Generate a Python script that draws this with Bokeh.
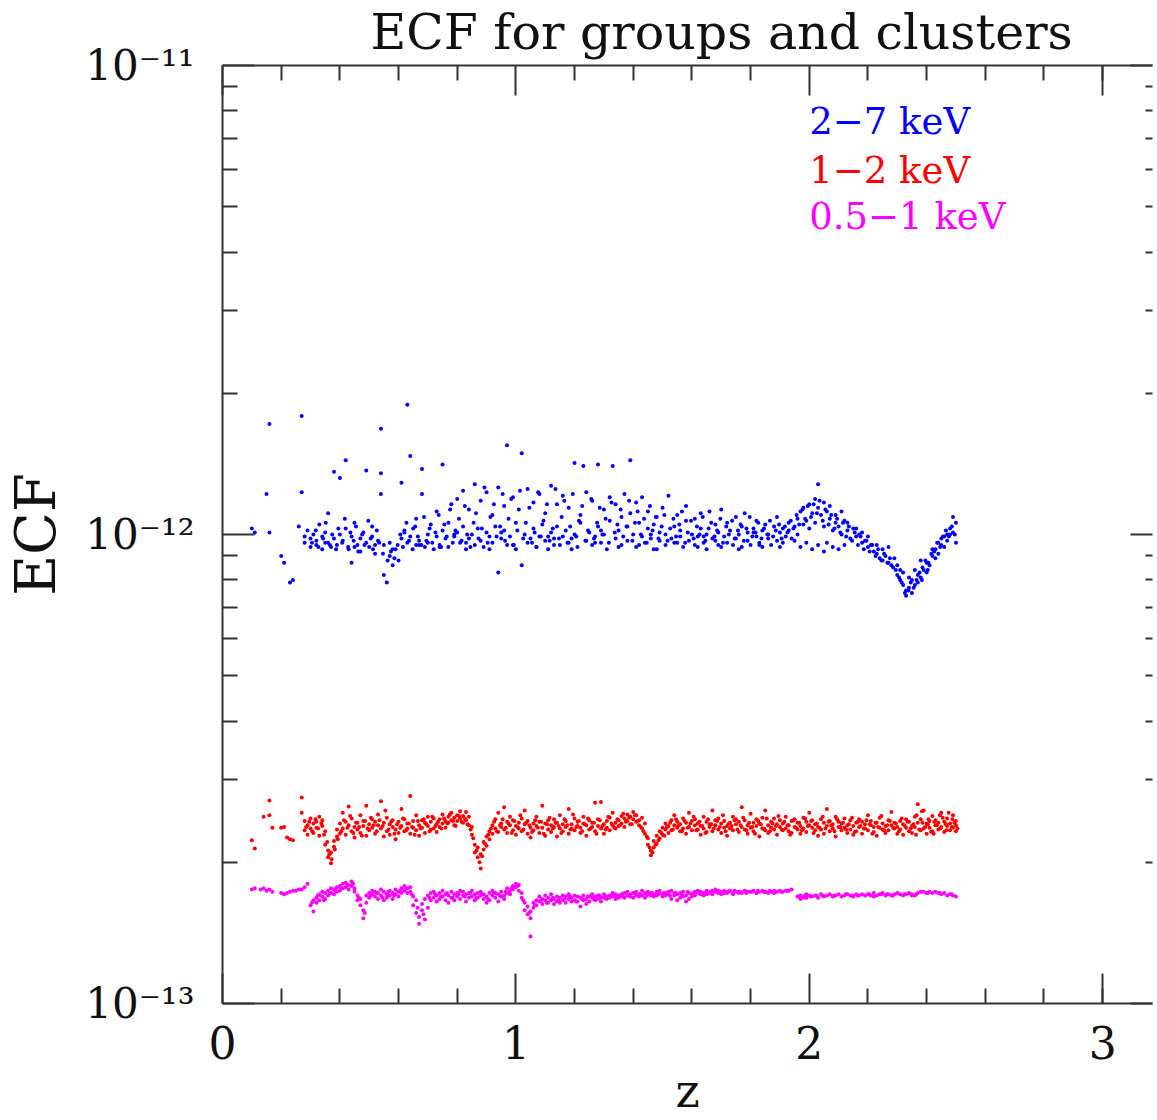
from bokeh.plotting import figure
from bokeh.models import (LogAxis, LinearAxis, FixedTicker, Label, Range1d,
                          ColumnDataSource, CustomLabelingPolicy)
from bokeh.embed import file_html
from bokeh.resources import INLINE

# ---------------- data (ECF values in units of 1e-13) ----------------
blue_z = [
    0.10, 0.11, 0.15, 0.16, 0.16, 0.20, 0.21, 0.23, 0.24, 0.27,
    0.27, 0.26, 0.28, 0.28, 0.29, 0.30, 0.30, 0.31, 0.32, 0.32,
    0.33, 0.34, 0.34, 0.35, 0.36, 0.36, 0.37, 0.38, 0.38, 0.39,
    0.40, 0.40, 0.41, 0.42, 0.42, 0.43, 0.44, 0.44, 0.45, 0.46,
    0.47, 0.47, 0.48, 0.49, 0.49, 0.50, 0.51, 0.51, 0.52, 0.53,
    0.54, 0.54, 0.54, 0.55, 0.55, 0.56, 0.57, 0.57, 0.58, 0.59,
    0.60, 0.61, 0.61, 0.62, 0.63, 0.63, 0.64, 0.64, 0.65, 0.66,
    0.66, 0.67, 0.68, 0.68, 0.69, 0.70, 0.70, 0.71, 0.72, 0.73,
    0.73, 0.74, 0.75, 0.75, 0.76, 0.77, 0.77, 0.78, 0.79, 0.80,
    0.80, 0.81, 0.82, 0.82, 0.83, 0.84, 0.84, 0.85, 0.86, 0.86,
    0.87, 0.88, 0.88, 0.89, 0.90, 0.90, 0.91, 0.92, 0.92, 0.93,
    0.94, 0.94, 0.95, 0.96, 0.96, 0.97, 0.97, 0.98, 0.99, 1.00,
    1.00, 1.01, 1.02, 1.02, 1.03, 1.04, 1.04, 1.05, 1.06, 1.06,
    1.07, 1.08, 1.08, 1.09, 1.10, 1.10, 1.11, 1.12, 1.12, 1.13,
    1.14, 1.14, 1.15, 1.16, 1.16, 1.17, 1.18, 1.18, 1.19, 1.20,
    1.20, 1.21, 1.22, 1.22, 1.23, 1.24, 1.24, 1.25, 1.26, 1.26,
    1.27, 1.28, 1.28, 1.29, 1.30, 1.30, 1.31, 1.32, 1.32, 1.33,
    1.34, 1.34, 1.35, 1.36, 1.36, 1.37, 1.38, 1.38, 1.39, 1.39,
    1.40, 1.41, 1.41, 1.42, 1.43, 1.43, 1.44, 1.45, 1.45, 1.46,
    1.47, 1.47, 1.48, 1.49, 1.49, 1.50, 1.51, 1.51, 1.52, 1.53,
    1.54, 1.54, 1.55, 1.56, 1.56, 1.57, 1.58, 1.58, 1.59, 1.60,
    1.61, 1.61, 1.62, 1.63, 1.63, 1.64, 1.65, 1.65, 1.66, 1.67,
    1.68, 1.68, 1.69, 1.70, 1.70, 1.71, 1.72, 1.72, 1.73, 1.74,
    1.75, 1.75, 1.76, 1.77, 1.77, 1.78, 1.79, 1.79, 1.80, 1.81,
    1.82, 1.82, 1.83, 1.84, 1.84, 1.85, 1.86, 1.86, 1.87, 1.88,
    1.89, 1.89, 1.90, 1.91, 1.91, 1.92, 1.93, 1.93, 1.94, 1.95,
    1.96, 1.96, 1.97, 1.98, 1.98, 1.99, 2.00, 2.00, 2.01, 2.02,
    2.02, 2.03, 2.03, 2.04, 2.05, 2.05, 2.06, 2.07, 2.07, 2.08,
    2.09, 2.09, 2.10, 2.11, 2.11, 2.12, 2.13, 2.13, 2.14, 2.15,
    2.16, 2.16, 2.17, 2.18, 2.18, 2.19, 2.20, 2.20, 2.21, 2.22,
    2.23, 2.23, 2.24, 2.25, 2.25, 2.26, 2.27, 2.27, 2.28, 2.29,
    2.30, 2.30, 2.31, 2.32, 2.32, 2.33, 2.33, 2.34, 2.35, 2.35,
    2.36, 2.37, 2.37, 2.38, 2.39, 2.40, 2.40, 2.41, 2.42, 2.43,
    2.43, 2.44, 2.45, 2.45, 2.46, 2.47, 2.47, 2.48, 2.49, 2.50,
    2.50, 2.49, 2.48, 2.46, 2.44, 2.42, 2.38, 2.36, 2.34, 2.31,
    1.97, 1.99, 2.01, 2.03, 2.05, 2.06, 2.08, 1.95, 2.10, 2.12,
    0.35, 0.45, 0.52, 0.58, 0.67, 0.74, 0.83, 0.91, 0.99, 1.07,
    1.13, 1.19, 1.27, 1.35, 1.42, 1.48, 1.55, 1.62, 1.69, 1.76,
    1.83, 1.90, 0.62, 0.79, 0.95, 1.11, 1.29, 1.46, 1.64, 1.81,
    0.305, 0.318, 0.327, 0.343, 0.352, 0.366, 0.374, 0.387, 0.395, 0.408,
    0.417, 0.428, 0.436, 0.447, 0.455, 0.463, 0.476, 0.484, 0.497, 0.505,
    0.513, 0.526, 0.534, 0.547, 0.563, 0.574, 0.586, 0.597, 0.606, 0.615,
    0.627, 0.636, 0.648, 0.657, 0.666, 0.678, 0.687, 0.695, 0.706, 0.715,
    0.726, 0.737, 0.745, 0.756, 0.764, 0.776, 0.785, 0.794, 0.806, 0.815,
    0.826, 0.834, 0.845, 0.856, 0.864, 0.873, 0.884, 0.893, 0.904, 0.913,
    0.925, 0.934, 0.946, 0.955, 0.963, 0.975, 0.984, 0.993, 1.005, 1.014,
    1.025, 1.034, 1.046, 1.055, 1.064, 1.076, 1.085, 1.094, 1.106, 1.115,
    1.126, 1.135, 1.147, 1.156, 1.165, 1.176, 1.185, 1.194, 1.206, 1.215,
    1.226, 1.237, 1.246, 1.257, 1.266, 1.277, 1.286, 1.295, 1.306, 1.317,
    1.326, 1.337, 1.346, 1.357, 1.366, 1.377, 1.386, 1.397, 1.406, 1.415,
    1.426, 1.437, 1.446, 1.457, 1.466, 1.477, 1.486, 1.497, 1.506, 1.517,
    1.526, 1.537, 1.546, 1.557, 1.566, 1.577, 1.586, 1.597, 1.606, 1.617,
    1.626, 1.637, 1.646, 1.657, 1.666, 1.677, 1.686, 1.697, 1.706, 1.717,
    1.726, 1.737, 1.746, 1.757, 1.766, 1.777, 1.786, 1.797, 1.806, 1.817,
    1.826, 1.837, 1.846, 1.857, 1.866, 1.877, 1.886, 1.897, 1.906, 1.917,
    1.926, 1.937, 1.946, 1.957, 1.966, 1.977, 1.986, 1.995, 2.006, 2.015,
    2.026, 2.035, 2.046, 2.055, 2.066, 2.075, 2.086, 2.095, 2.106, 2.115,
    2.126, 2.135, 2.146, 2.155, 2.166, 2.175, 2.186, 2.195, 2.206, 2.215,
    2.226, 2.235, 2.246, 2.255, 2.266, 2.275, 2.286, 2.295, 2.306, 2.315,
    2.326, 2.338, 2.346, 2.356, 2.366, 2.376, 2.386, 2.396, 2.406, 2.416,
    2.426, 2.436, 2.446, 2.456, 2.466, 2.476, 2.486, 2.496, 2.404, 2.384,
]
blue_ecf = [
    10.3, 10.1, 12.2, 17.2, 10.1, 9.0, 8.7, 7.9, 8.0, 17.9,
    12.3, 10.4, 9.6, 9.9, 10.2, 9.4, 9.8, 10.0, 9.5, 9.7,
    10.5, 9.3, 9.9, 10.1, 9.6, 11.1, 9.4, 13.6, 9.8, 9.5,
    10.0, 13.2, 9.7, 14.4, 10.3, 9.3, 8.7, 9.9, 10.6, 9.5,
    9.8, 9.2, 10.1, 13.7, 9.6, 9.4, 9.9, 10.4, 9.1, 9.7,
    16.8, 13.5, 12.2, 8.2, 9.5, 7.9, 9.0, 9.6, 8.6, 9.3,
    8.8, 12.9, 9.8, 10.1, 9.6, 18.9, 14.7, 9.9, 10.3, 9.5,
    10.8, 9.7, 13.8, 12.2, 9.4, 10.0, 9.6, 10.5, 9.3, 9.9,
    11.2, 9.5, 14.1, 10.2, 9.8, 10.6, 9.4, 11.6, 9.9, 10.1,
    11.9, 9.6, 10.4, 12.4, 9.3, 9.8, 11.3, 10.0, 9.5, 12.8,
    10.3, 9.7, 11.8, 9.4, 10.1, 12.3, 9.9, 9.6, 11.0, 10.4,
    8.3, 12.6, 9.8, 10.2, 11.5, 15.5, 9.5, 9.9, 12.0, 10.6,
    9.3, 11.3, 14.9, 8.6, 10.0, 9.6, 12.5, 9.8, 10.3, 11.7,
    9.4, 9.9, 12.2, 10.5, 9.7, 11.1, 9.3, 10.1, 12.7, 9.8,
    10.4, 11.6, 9.5, 9.9, 12.1, 10.2, 9.6, 11.4, 9.8, 14.2,
    10.0, 9.4, 11.0, 10.6, 14.0, 9.7, 12.3, 10.1, 9.5, 11.8,
    9.9, 14.1, 10.4, 9.6, 11.3, 10.0, 9.3, 12.0, 10.7, 14.0,
    9.8, 11.6, 10.2, 9.5, 10.9, 12.2, 10.4, 9.7, 14.4, 11.1,
    10.0, 9.4, 11.7, 10.6, 9.9, 12.0, 9.6, 10.3, 11.2, 9.8,
    10.5, 9.3, 10.9, 9.7, 10.1, 11.4, 9.5, 10.0, 12.1, 9.8,
    10.4, 9.6, 11.0, 9.9, 10.2, 9.4, 10.7, 11.5, 9.7, 10.0,
    9.5, 10.8, 9.9, 10.3, 11.1, 9.6, 10.0, 9.3, 11.2, 9.8,
    10.5, 9.7, 10.1, 11.3, 9.4, 9.9, 10.6, 9.6, 10.2, 9.5,
    10.9, 9.8, 10.0, 9.4, 10.4, 11.1, 9.7, 10.1, 9.5, 10.3,
    9.9, 10.7, 9.6, 10.2, 9.4, 10.5, 9.8, 10.0, 9.5, 10.4,
    9.7, 10.9, 10.1, 9.6, 10.3, 9.9, 10.2, 10.6, 9.8, 10.4,
    10.8, 10.0, 11.2, 10.5, 11.4, 10.7, 11.6, 10.3, 11.1, 11.9,
    10.6, 11.4, 12.8, 11.0, 11.7, 10.4, 11.2, 10.8, 11.5, 10.2,
    11.0, 10.6, 10.4, 11.2, 10.0, 10.7, 10.2, 10.6, 9.8, 10.3,
    9.9, 10.3, 10.0, 9.6, 10.1, 9.7, 9.4, 9.9, 9.5, 9.2,
    9.5, 9.1, 8.9, 9.3, 8.8, 9.0, 8.7, 9.4, 8.6, 8.9,
    8.2, 8.6, 8.0, 7.8, 8.3, 7.6, 7.4, 7.7, 7.5, 8.0,
    7.8, 8.2, 7.9, 8.1, 8.4, 8.3, 8.7, 8.6, 9.0, 8.9,
    9.3, 9.1, 9.5, 9.8, 9.4, 10.0, 9.7, 10.3, 10.1, 9.6,
    10.6, 10.9, 10.0, 9.9, 9.6, 9.3, 8.8, 8.4, 8.1, 8.4,
    9.4, 9.6, 9.3, 9.5, 9.2, 9.6, 9.4, 9.7, 9.3, 9.5,
    9.6, 9.4, 9.5, 9.3, 9.5, 9.4, 9.6, 9.3, 9.5, 9.4,
    9.5, 9.3, 9.6, 9.4, 9.5, 9.3, 9.6, 9.4, 9.5, 9.3,
    9.5, 9.4, 10.2, 10.0, 10.1, 9.9, 10.2, 10.0, 9.9, 10.1,
    9.6, 10.2, 9.4, 9.8, 10.6, 9.5, 10.0, 9.3, 10.3, 9.6,
    10.8, 9.4, 10.1, 9.7, 10.4, 9.2, 10.0, 9.5, 10.7, 9.8,
    9.3, 10.2, 9.6, 9.1, 8.8, 9.2, 8.9, 9.5, 10.0, 9.4,
    10.6, 9.7, 9.3, 10.4, 9.9, 9.5, 10.9, 9.7, 10.3, 9.6,
    10.1, 11.0, 9.4, 10.5, 9.9, 11.3, 9.6, 10.2, 10.8, 9.7,
    11.5, 10.0, 9.4, 10.6, 11.1, 9.8, 10.3, 12.6, 9.6, 10.9,
    11.6, 9.9, 10.4, 12.2, 9.7, 10.8, 11.9, 9.5, 10.2, 12.4,
    9.8, 10.6, 11.4, 9.6, 10.1, 12.3, 9.9, 10.7, 11.6, 9.7,
    10.3, 12.5, 9.8, 10.9, 11.8, 9.6, 10.4, 12.2, 9.9, 10.7,
    11.5, 9.7, 10.2, 11.9, 9.8, 10.6, 11.4, 10.0, 10.8, 9.6,
    11.7, 10.1, 10.5, 11.3, 9.9, 10.4, 11.8, 9.7, 10.6, 11.2,
    10.0, 10.8, 9.6, 11.5, 10.2, 10.9, 9.8, 10.4, 11.0, 9.7,
    10.3, 10.8, 9.9, 10.5, 11.2, 9.6, 10.1, 10.7, 9.8, 10.4,
    10.0, 10.9, 9.7, 10.3, 10.6, 9.9, 10.2, 10.8, 9.6, 10.4,
    10.0, 10.7, 9.8, 10.2, 10.5, 9.7, 10.3, 10.9, 9.9, 10.1,
    10.6, 9.8, 10.3, 10.0, 10.7, 9.9, 10.2, 10.5, 9.8, 10.4,
    10.1, 10.7, 10.3, 11.0, 10.5, 11.3, 10.8, 11.5, 10.9, 11.6,
    11.1, 11.8, 10.7, 11.3, 10.5, 11.0, 10.3, 10.8, 10.1, 10.6,
    9.9, 10.4, 9.7, 10.1, 9.5, 9.9, 9.3, 9.7, 9.2, 9.5,
    9.0, 9.3, 8.8, 9.1, 8.7, 8.9, 8.5, 8.4, 8.1, 7.9,
    7.5, 7.6, 7.9, 7.7, 8.0, 8.3, 8.5, 8.8, 8.7, 9.1,
    9.2, 9.6, 9.4, 9.9, 10.2, 9.9, 10.4, 10.0, 8.4, 8.0,
]

red_z = [
    0.10, 0.11, 0.14, 0.16, 0.16, 0.17, 0.20, 0.21, 0.22, 0.23,
    0.24, 0.27, 0.27, 0.28, 0.28, 0.29, 0.29, 0.30, 0.30, 0.31,
    0.31, 0.32, 0.32, 0.33, 0.33, 0.34, 0.34, 0.35, 0.35, 0.36,
    0.36, 0.37, 0.37, 0.38, 0.38, 0.39, 0.39, 0.40, 0.40, 0.41,
    0.41, 0.42, 0.42, 0.43, 0.43, 0.44, 0.44, 0.45, 0.45, 0.46,
    0.46, 0.47, 0.47, 0.48, 0.48, 0.49, 0.49, 0.50, 0.50, 0.51,
    0.51, 0.52, 0.52, 0.53, 0.53, 0.54, 0.54, 0.55, 0.55, 0.56,
    0.56, 0.57, 0.57, 0.58, 0.58, 0.59, 0.59, 0.60, 0.60, 0.61,
    0.61, 0.62, 0.62, 0.63, 0.63, 0.64, 0.64, 0.65, 0.65, 0.66,
    0.66, 0.67, 0.67, 0.68, 0.68, 0.69, 0.69, 0.70, 0.70, 0.71,
    0.71, 0.72, 0.72, 0.73, 0.73, 0.74, 0.74, 0.75, 0.75, 0.76,
    0.76, 0.77, 0.77, 0.78, 0.78, 0.79, 0.79, 0.80, 0.80, 0.81,
    0.81, 0.82, 0.82, 0.83, 0.83, 0.84, 0.84, 0.85, 0.85, 0.86,
    0.86, 0.87, 0.87, 0.88, 0.88, 0.89, 0.89, 0.90, 0.90, 0.91,
    0.91, 0.92, 0.92, 0.93, 0.93, 0.94, 0.94, 0.95, 0.95, 0.96,
    0.96, 0.97, 0.97, 0.98, 0.98, 0.99, 0.99, 1.00, 1.00, 1.01,
    1.01, 1.02, 1.02, 1.03, 1.03, 1.04, 1.04, 1.05, 1.05, 1.06,
    1.06, 1.07, 1.07, 1.08, 1.08, 1.09, 1.09, 1.10, 1.10, 1.11,
    1.11, 1.12, 1.12, 1.13, 1.13, 1.14, 1.14, 1.15, 1.15, 1.16,
    1.16, 1.17, 1.17, 1.18, 1.18, 1.19, 1.19, 1.20, 1.20, 1.21,
    1.21, 1.22, 1.22, 1.23, 1.23, 1.24, 1.24, 1.25, 1.25, 1.26,
    1.26, 1.27, 1.27, 1.28, 1.28, 1.29, 1.29, 1.30, 1.30, 1.31,
    1.31, 1.32, 1.32, 1.33, 1.33, 1.34, 1.34, 1.35, 1.35, 1.36,
    1.36, 1.37, 1.37, 1.38, 1.38, 1.39, 1.39, 1.40, 1.40, 1.41,
    1.41, 1.42, 1.42, 1.43, 1.43, 1.44, 1.44, 1.45, 1.45, 1.46,
    1.46, 1.47, 1.47, 1.48, 1.48, 1.49, 1.49, 1.50, 1.50, 1.51,
    1.51, 1.52, 1.52, 1.53, 1.53, 1.54, 1.54, 1.55, 1.55, 1.56,
    1.56, 1.57, 1.57, 1.58, 1.58, 1.59, 1.59, 1.60, 1.60, 1.61,
    1.61, 1.62, 1.62, 1.63, 1.63, 1.64, 1.64, 1.65, 1.65, 1.66,
    1.66, 1.67, 1.67, 1.68, 1.68, 1.69, 1.69, 1.70, 1.70, 1.71,
    1.71, 1.72, 1.72, 1.73, 1.73, 1.74, 1.74, 1.75, 1.75, 1.76,
    1.76, 1.77, 1.77, 1.78, 1.78, 1.79, 1.79, 1.80, 1.80, 1.81,
    1.81, 1.82, 1.82, 1.83, 1.83, 1.84, 1.84, 1.85, 1.85, 1.86,
    1.86, 1.87, 1.87, 1.88, 1.88, 1.89, 1.89, 1.90, 1.90, 1.91,
    1.91, 1.92, 1.92, 1.93, 1.93, 1.94, 1.94, 1.95, 1.95, 1.96,
    1.96, 1.97, 1.97, 1.98, 1.98, 1.99, 1.99, 2.00, 2.00, 2.01,
    2.01, 2.02, 2.02, 2.03, 2.03, 2.04, 2.04, 2.05, 2.05, 2.06,
    2.06, 2.07, 2.07, 2.08, 2.08, 2.09, 2.09, 2.10, 2.10, 2.11,
    2.11, 2.12, 2.12, 2.13, 2.13, 2.14, 2.14, 2.15, 2.15, 2.16,
    2.16, 2.17, 2.17, 2.18, 2.18, 2.19, 2.19, 2.20, 2.20, 2.21,
    2.21, 2.22, 2.22, 2.23, 2.23, 2.24, 2.24, 2.25, 2.25, 2.26,
    2.26, 2.27, 2.27, 2.28, 2.28, 2.29, 2.29, 2.30, 2.30, 2.31,
    2.31, 2.32, 2.32, 2.33, 2.33, 2.34, 2.34, 2.35, 2.35, 2.36,
    2.36, 2.37, 2.37, 2.38, 2.38, 2.39, 2.39, 2.40, 2.40, 2.41,
    2.41, 2.42, 2.42, 2.43, 2.43, 2.44, 2.44, 2.45, 2.45, 2.46,
    2.46, 2.47, 2.47, 2.48, 2.48, 2.49, 2.49, 2.50, 2.50, 2.50,
    0.285, 0.296, 0.306, 0.317, 0.326, 0.337, 0.346, 0.357, 0.364, 0.372,
    0.383, 0.393, 0.405, 0.414, 0.426, 0.435, 0.446, 0.455, 0.466, 0.475,
    0.486, 0.495, 0.506, 0.515, 0.526, 0.535, 0.546, 0.555, 0.566, 0.575,
    0.586, 0.595, 0.606, 0.615, 0.626, 0.635, 0.646, 0.655, 0.666, 0.675,
    0.686, 0.695, 0.706, 0.715, 0.726, 0.735, 0.746, 0.755, 0.766, 0.775,
    0.786, 0.795, 0.806, 0.815, 0.826, 0.835, 0.846, 0.855, 0.866, 0.876,
    0.885, 0.895, 0.906, 0.915, 0.926, 0.935, 0.946, 0.955, 0.966, 0.975,
    0.986, 0.995, 1.006, 1.015, 1.026, 1.035, 1.046, 1.055, 1.066, 1.075,
    1.086, 1.095, 1.106, 1.115, 1.126, 1.135, 1.146, 1.155, 1.166, 1.175,
    1.186, 1.195, 1.206, 1.215, 1.226, 1.235, 1.246, 1.255, 1.266, 1.275,
    1.286, 1.295, 1.306, 1.315, 1.326, 1.335, 1.346, 1.355, 1.366, 1.375,
    1.386, 1.395, 1.406, 1.415, 1.426, 1.435, 1.446, 1.456, 1.466, 1.476,
    1.486, 1.496, 1.506, 1.515, 1.526, 1.535, 1.546, 1.555, 1.566, 1.575,
    1.586, 1.595, 1.606, 1.615, 1.626, 1.635, 1.646, 1.655, 1.666, 1.675,
    1.686, 1.695, 1.706, 1.715, 1.726, 1.735, 1.746, 1.755, 1.766, 1.775,
    1.786, 1.795, 1.806, 1.815, 1.826, 1.835, 1.846, 1.855, 1.866, 1.875,
    1.886, 1.895, 1.906, 1.915, 1.926, 1.935, 1.946, 1.955, 1.966, 1.975,
    1.986, 1.995, 2.006, 2.015, 2.026, 2.035, 2.046, 2.055, 2.066, 2.075,
    2.086, 2.095, 2.106, 2.115, 2.126, 2.135, 2.146, 2.155, 2.166, 2.175,
    2.186, 2.195, 2.206, 2.215, 2.226, 2.235, 2.246, 2.255, 2.266, 2.275,
    2.286, 2.295, 2.306, 2.315, 2.326, 2.335, 2.346, 2.355, 2.366, 2.375,
    2.386, 2.395, 2.406, 2.415, 2.426, 2.435, 2.446, 2.455, 2.466, 2.475,
    2.486, 2.495, 2.505, 2.488, 2.467, 2.445, 2.424, 2.404, 2.384, 2.364,
]
red_ecf = [
    2.23, 2.14, 2.50, 2.71, 2.52, 2.37, 2.37, 2.38, 2.26, 2.24,
    2.23, 2.75, 2.55, 2.45, 2.34, 2.40, 2.29, 2.48, 2.36, 2.42,
    2.31, 2.44, 2.37, 2.50, 2.28, 2.46, 2.39, 2.33, 2.18, 2.12,
    2.05, 1.99, 2.10, 2.16, 2.22, 2.27, 2.35, 2.30, 2.42, 2.55,
    2.36, 2.44, 2.29, 2.63, 2.40, 2.33, 2.48, 2.38, 2.26, 2.43,
    2.35, 2.52, 2.31, 2.39, 2.45, 2.64, 2.28, 2.41, 2.34, 2.47,
    2.37, 2.30, 2.44, 2.40, 2.53, 2.70, 2.36, 2.43, 2.27, 2.49,
    2.33, 2.41, 2.29, 2.38, 2.46, 2.24, 2.35, 2.44, 2.31, 2.60,
    2.39, 2.47, 2.33, 2.36, 2.42, 2.77, 2.30, 2.45, 2.37, 2.52,
    2.34, 2.40, 2.28, 2.46, 2.37, 2.31, 2.43, 2.39, 2.50, 2.35,
    2.44, 2.36, 2.48, 2.41, 2.32, 2.47, 2.38, 2.53, 2.42, 2.45,
    2.37, 2.50, 2.43, 2.46, 2.55, 2.49, 2.40, 2.52, 2.45, 2.57,
    2.48, 2.51, 2.43, 2.56, 2.46, 2.50, 2.40, 2.38, 2.29, 2.18,
    2.10, 2.05, 2.15, 1.94, 2.08, 2.13, 2.21, 2.17, 2.27, 2.24,
    2.33, 2.30, 2.40, 2.36, 2.47, 2.55, 2.32, 2.42, 2.38, 2.62,
    2.35, 2.44, 2.31, 2.40, 2.50, 2.34, 2.46, 2.29, 2.39, 2.43,
    2.36, 2.48, 2.33, 2.41, 2.58, 2.30, 2.45, 2.37, 2.26, 2.42,
    2.34, 2.50, 2.39, 2.31, 2.44, 2.37, 2.64, 2.42, 2.28, 2.46,
    2.35, 2.40, 2.32, 2.47, 2.38, 2.43, 2.27, 2.36, 2.52, 2.41,
    2.33, 2.45, 2.38, 2.30, 2.60, 2.41, 2.36, 2.48, 2.34, 2.39,
    2.44, 2.31, 2.37, 2.42, 2.50, 2.28, 2.40, 2.35, 2.46, 2.38,
    2.43, 2.33, 2.68, 2.39, 2.47, 2.36, 2.69, 2.41, 2.30, 2.45,
    2.37, 2.49, 2.34, 2.40, 2.55, 2.43, 2.36, 2.46, 2.39, 2.51,
    2.42, 2.48, 2.38, 2.53, 2.45, 2.50, 2.41, 2.56, 2.47, 2.44,
    2.52, 2.46, 2.40, 2.49, 2.36, 2.42, 2.30, 2.25, 2.18, 2.12,
    2.07, 2.15, 2.22, 2.19, 2.28, 2.25, 2.33, 2.29, 2.37, 2.35,
    2.42, 2.31, 2.39, 2.46, 2.34, 2.40, 2.52, 2.37, 2.44, 2.33,
    2.41, 2.48, 2.36, 2.43, 2.30, 2.55, 2.38, 2.45, 2.34, 2.40,
    2.47, 2.35, 2.42, 2.29, 2.39, 2.50, 2.36, 2.44, 2.32, 2.41,
    2.38, 2.58, 2.33, 2.46, 2.40, 2.35, 2.48, 2.31, 2.42, 2.37,
    2.45, 2.39, 2.28, 2.43, 2.36, 2.50, 2.34, 2.41, 2.47, 2.32,
    2.44, 2.38, 2.62, 2.35, 2.46, 2.30, 2.40, 2.54, 2.37, 2.43,
    2.33, 2.47, 2.39, 2.27, 2.42, 2.36, 2.49, 2.34, 2.58, 2.40,
    2.31, 2.44, 2.37, 2.48, 2.35, 2.41, 2.29, 2.46, 2.38, 2.34,
    2.42, 2.36, 2.50, 2.33, 2.40, 2.45, 2.31, 2.38, 2.47, 2.35,
    2.43, 2.30, 2.39, 2.49, 2.36, 2.44, 2.32, 2.40, 2.55, 2.37,
    2.46, 2.34, 2.41, 2.28, 2.38, 2.47, 2.35, 2.43, 2.30, 2.60,
    2.39, 2.45, 2.33, 2.41, 2.36, 2.50, 2.27, 2.38, 2.44, 2.34,
    2.42, 2.37, 2.48, 2.31, 2.40, 2.35, 2.46, 2.29, 2.39, 2.43,
    2.33, 2.47, 2.38, 2.44, 2.30, 2.41, 2.36, 2.52, 2.34, 2.40,
    2.45, 2.32, 2.38, 2.43, 2.28, 2.37, 2.49, 2.35, 2.42, 2.31,
    2.39, 2.46, 2.34, 2.40, 2.56, 2.36, 2.43, 2.30, 2.38, 2.45,
    2.35, 2.41, 2.29, 2.47, 2.37, 2.33, 2.44, 2.39, 2.31, 2.50,
    2.38, 2.66, 2.43, 2.34, 2.47, 2.36, 2.58, 2.42, 2.30, 2.45,
    2.37, 2.51, 2.33, 2.40, 2.46, 2.35, 2.43, 2.55, 2.38, 2.32,
    2.44, 2.39, 2.48, 2.34, 2.42, 2.52, 2.37, 2.45, 2.40, 2.33,
    2.38, 2.44, 2.33, 2.47, 2.36, 2.42, 2.29, 2.21, 2.08, 2.03,
    2.13, 2.24, 2.33, 2.46, 2.37, 2.51, 2.31, 2.43, 2.38, 2.28,
    2.45, 2.36, 2.49, 2.40, 2.33, 2.46, 2.39, 2.58, 2.35, 2.44,
    2.30, 2.41, 2.37, 2.48, 2.34, 2.42, 2.38, 2.29, 2.45, 2.36,
    2.47, 2.41, 2.33, 2.50, 2.39, 2.44, 2.36, 2.48, 2.42, 2.53,
    2.45, 2.39, 2.51, 2.44, 2.48, 2.41, 2.35, 2.25, 2.12, 2.00,
    2.06, 2.19, 2.29, 2.36, 2.44, 2.33, 2.40, 2.47, 2.37, 2.42,
    2.31, 2.45, 2.38, 2.52, 2.35, 2.43, 2.40, 2.32, 2.46, 2.37,
    2.44, 2.30, 2.41, 2.49, 2.36, 2.43, 2.39, 2.31, 2.47, 2.40,
    2.35, 2.53, 2.38, 2.45, 2.33, 2.41, 2.48, 2.36, 2.43, 2.30,
    2.46, 2.39, 2.35, 2.50, 2.42, 2.37, 2.47, 2.40, 2.54, 2.44,
    2.49, 2.41, 2.52, 2.45, 2.38, 2.33, 2.27, 2.15, 2.10, 2.18,
    2.23, 2.31, 2.28, 2.38, 2.43, 2.35, 2.47, 2.40, 2.33, 2.45,
    2.37, 2.42, 2.50, 2.34, 2.44, 2.39, 2.31, 2.47, 2.41, 2.36,
    2.45, 2.38, 2.52, 2.33, 2.42, 2.39, 2.46, 2.35, 2.40, 2.49,
    2.34, 2.43, 2.38, 2.30, 2.45, 2.41, 2.36, 2.48, 2.33, 2.42,
    2.39, 2.51, 2.35, 2.44, 2.40, 2.29, 2.46, 2.37, 2.43, 2.34,
    2.48, 2.39, 2.45, 2.31, 2.42, 2.37, 2.50, 2.36, 2.44, 2.40,
    2.33, 2.47, 2.38, 2.43, 2.35, 2.41, 2.49, 2.32, 2.44, 2.39,
    2.36, 2.46, 2.41, 2.30, 2.43, 2.38, 2.51, 2.34, 2.40, 2.45,
    2.37, 2.42, 2.33, 2.48, 2.39, 2.44, 2.36, 2.41, 2.52, 2.35,
    2.43, 2.38, 2.47, 2.32, 2.44, 2.40, 2.36, 2.49, 2.41, 2.55,
    2.38, 2.43, 2.36, 2.47, 2.34, 2.52, 2.30, 2.41, 2.57, 2.29,
]

magenta_z = [
    0.10, 0.11, 0.13, 0.14, 0.15, 0.16, 0.17, 0.20, 0.21, 0.22,
    0.23, 0.24, 0.25, 0.26, 0.27, 0.28, 0.29, 0.30, 0.31, 0.31,
    0.32, 0.32, 0.33, 0.33, 0.34, 0.34, 0.35, 0.35, 0.36, 0.36,
    0.37, 0.37, 0.38, 0.38, 0.39, 0.39, 0.40, 0.40, 0.41, 0.41,
    0.42, 0.42, 0.43, 0.43, 0.44, 0.44, 0.45, 0.45, 0.46, 0.46,
    0.47, 0.47, 0.48, 0.48, 0.49, 0.49, 0.50, 0.50, 0.51, 0.51,
    0.52, 0.52, 0.53, 0.53, 0.54, 0.54, 0.55, 0.55, 0.56, 0.56,
    0.57, 0.57, 0.58, 0.58, 0.59, 0.59, 0.60, 0.60, 0.61, 0.61,
    0.62, 0.62, 0.63, 0.63, 0.64, 0.64, 0.65, 0.65, 0.66, 0.66,
    0.67, 0.67, 0.68, 0.68, 0.69, 0.69, 0.70, 0.70, 0.71, 0.71,
    0.72, 0.72, 0.73, 0.73, 0.74, 0.74, 0.75, 0.75, 0.76, 0.76,
    0.77, 0.77, 0.78, 0.78, 0.79, 0.79, 0.80, 0.80, 0.81, 0.81,
    0.82, 0.82, 0.83, 0.83, 0.84, 0.84, 0.85, 0.85, 0.86, 0.86,
    0.87, 0.87, 0.88, 0.88, 0.89, 0.89, 0.90, 0.90, 0.91, 0.91,
    0.92, 0.92, 0.93, 0.93, 0.94, 0.94, 0.95, 0.95, 0.96, 0.96,
    0.97, 0.97, 0.98, 0.98, 0.99, 0.99, 1.00, 1.00, 1.01, 1.01,
    1.02, 1.02, 1.03, 1.03, 1.04, 1.04, 1.05, 1.05, 1.05, 1.06,
    1.06, 1.07, 1.07, 1.08, 1.08, 1.09, 1.09, 1.10, 1.10, 1.11,
    1.11, 1.12, 1.12, 1.13, 1.13, 1.14, 1.14, 1.15, 1.15, 1.16,
    1.16, 1.17, 1.17, 1.18, 1.18, 1.19, 1.19, 1.20, 1.20, 1.21,
    1.21, 1.22, 1.22, 1.23, 1.23, 1.24, 1.24, 1.25, 1.25, 1.26,
    1.26, 1.27, 1.27, 1.28, 1.28, 1.29, 1.29, 1.30, 1.30, 1.31,
    1.31, 1.32, 1.32, 1.33, 1.33, 1.34, 1.34, 1.35, 1.35, 1.36,
    1.36, 1.37, 1.37, 1.38, 1.38, 1.39, 1.39, 1.40, 1.40, 1.41,
    1.41, 1.42, 1.42, 1.43, 1.43, 1.44, 1.44, 1.45, 1.45, 1.46,
    1.46, 1.47, 1.47, 1.48, 1.48, 1.49, 1.49, 1.50, 1.50, 1.51,
    1.51, 1.52, 1.52, 1.53, 1.53, 1.54, 1.54, 1.55, 1.55, 1.56,
    1.56, 1.57, 1.57, 1.58, 1.58, 1.59, 1.59, 1.60, 1.60, 1.61,
    1.61, 1.62, 1.62, 1.63, 1.63, 1.64, 1.64, 1.65, 1.65, 1.66,
    1.66, 1.67, 1.67, 1.68, 1.68, 1.69, 1.69, 1.70, 1.70, 1.71,
    1.71, 1.72, 1.72, 1.73, 1.74, 1.75, 1.76, 1.77, 1.78, 1.79,
    1.80, 1.81, 1.82, 1.83, 1.84, 1.85, 1.86, 1.87, 1.88, 1.89,
    1.90, 1.91, 1.92, 1.93, 1.94, 1.96, 1.97, 1.97, 1.98, 1.99,
    1.99, 2.00, 2.01, 2.02, 2.03, 2.04, 2.05, 2.06, 2.07, 2.08,
    2.09, 2.10, 2.11, 2.12, 2.13, 2.14, 2.15, 2.16, 2.17, 2.18,
    2.19, 2.20, 2.21, 2.22, 2.23, 2.24, 2.25, 2.26, 2.27, 2.28,
    2.29, 2.30, 2.31, 2.32, 2.33, 2.34, 2.35, 2.36, 2.37, 2.38,
    2.39, 2.40, 2.41, 2.42, 2.43, 2.44, 2.45, 2.46, 2.47, 2.48,
    2.49, 2.50, 1.74, 1.76, 1.79, 1.82, 1.85, 1.88, 2.22, 2.35,
    0.305, 0.325, 0.345, 0.365, 0.385, 0.405, 0.425, 0.445, 0.465, 0.485,
    0.505, 0.525, 0.545, 0.565, 0.585, 0.605, 0.625, 0.645, 0.665, 0.685,
    0.705, 0.725, 0.745, 0.765, 0.785, 0.805, 0.825, 0.845, 0.865, 0.885,
    0.905, 0.925, 0.945, 0.965, 0.985, 1.005, 1.025, 1.045, 1.065, 1.085,
    1.105, 1.125, 1.145, 1.165, 1.185, 1.205, 1.225, 1.245, 1.265, 1.285,
    1.305, 1.325, 1.345, 1.365, 1.385, 1.405, 1.425, 1.445, 1.465, 1.485,
    1.505, 1.525, 1.545, 1.565, 1.585, 1.605, 1.625, 1.645, 1.665, 1.685,
    1.705, 1.725, 1.745, 1.765, 1.785, 1.805, 1.825, 1.845, 1.865, 1.885,
    1.905, 1.925, 1.965, 1.985, 2.005, 2.045, 2.085, 2.125, 2.165, 2.205,
    2.245, 2.285, 2.325, 2.365, 2.405, 2.445, 2.485, 2.265, 2.145, 2.025,
]
magenta_ecf = [
    1.75, 1.76, 1.75, 1.76, 1.74, 1.75, 1.73, 1.72, 1.71, 1.72,
    1.73, 1.74, 1.74, 1.75, 1.75, 1.77, 1.80, 1.62, 1.57, 1.66,
    1.64, 1.68, 1.66, 1.71, 1.69, 1.73, 1.67, 1.72, 1.70, 1.74,
    1.72, 1.76, 1.71, 1.75, 1.77, 1.73, 1.74, 1.78, 1.76, 1.80,
    1.77, 1.81, 1.79, 1.75, 1.82, 1.78, 1.76, 1.73, 1.70, 1.66,
    1.62, 1.67, 1.52, 1.58, 1.64, 1.70, 1.72, 1.68, 1.74, 1.71,
    1.69, 1.73, 1.67, 1.72, 1.75, 1.70, 1.66, 1.73, 1.71, 1.68,
    1.74, 1.70, 1.72, 1.67, 1.75, 1.71, 1.73, 1.69, 1.76, 1.72,
    1.74, 1.78, 1.76, 1.72, 1.77, 1.73, 1.69, 1.62, 1.56, 1.66,
    1.48, 1.53, 1.58, 1.63, 1.51, 1.67, 1.60, 1.70, 1.66, 1.72,
    1.68, 1.73, 1.65, 1.70, 1.72, 1.67, 1.69, 1.74, 1.66, 1.71,
    1.70, 1.64, 1.73, 1.68, 1.71, 1.66, 1.72, 1.69, 1.74, 1.67,
    1.70, 1.73, 1.65, 1.71, 1.68, 1.72, 1.69, 1.74, 1.66, 1.71,
    1.72, 1.68, 1.70, 1.73, 1.67, 1.71, 1.64, 1.69, 1.72, 1.66,
    1.70, 1.74, 1.68, 1.72, 1.65, 1.71, 1.69, 1.73, 1.67, 1.70,
    1.72, 1.76, 1.74, 1.71, 1.78, 1.75, 1.80, 1.77, 1.79, 1.74,
    1.72, 1.68, 1.64, 1.58, 1.55, 1.61, 1.52, 1.39, 1.57, 1.60,
    1.64, 1.62, 1.66, 1.65, 1.69, 1.63, 1.67, 1.66, 1.70, 1.64,
    1.68, 1.66, 1.71, 1.63, 1.67, 1.69, 1.65, 1.68, 1.64, 1.70,
    1.66, 1.69, 1.64, 1.67, 1.71, 1.65, 1.68, 1.70, 1.66, 1.69,
    1.65, 1.61, 1.68, 1.66, 1.70, 1.63, 1.67, 1.69, 1.65, 1.68,
    1.71, 1.66, 1.69, 1.67, 1.70, 1.68, 1.65, 1.71, 1.68, 1.69,
    1.67, 1.70, 1.68, 1.72, 1.69, 1.71, 1.67, 1.70, 1.68, 1.71,
    1.69, 1.72, 1.68, 1.70, 1.73, 1.69, 1.71, 1.68, 1.72, 1.70,
    1.73, 1.69, 1.71, 1.74, 1.70, 1.72, 1.68, 1.71, 1.73, 1.70,
    1.72, 1.69, 1.71, 1.73, 1.70, 1.72, 1.74, 1.71, 1.69, 1.72,
    1.70, 1.73, 1.71, 1.74, 1.67, 1.72, 1.70, 1.66, 1.71, 1.68,
    1.72, 1.69, 1.73, 1.65, 1.70, 1.72, 1.67, 1.71, 1.69, 1.73,
    1.70, 1.72, 1.74, 1.71, 1.73, 1.70, 1.72, 1.74, 1.71, 1.73,
    1.72, 1.74, 1.71, 1.73, 1.75, 1.72, 1.74, 1.71, 1.73, 1.72,
    1.74, 1.72, 1.73, 1.74, 1.72, 1.73, 1.73, 1.72, 1.74, 1.73,
    1.73, 1.74, 1.72, 1.73, 1.74, 1.73, 1.72, 1.73, 1.74, 1.73,
    1.74, 1.73, 1.74, 1.74, 1.75, 1.69, 1.67, 1.70, 1.68, 1.71,
    1.68, 1.70, 1.69, 1.70, 1.68, 1.71, 1.69, 1.70, 1.71, 1.69,
    1.70, 1.71, 1.69, 1.70, 1.71, 1.70, 1.69, 1.71, 1.70, 1.71,
    1.70, 1.71, 1.70, 1.72, 1.70, 1.71, 1.72, 1.70, 1.71, 1.70,
    1.71, 1.72, 1.71, 1.70, 1.71, 1.72, 1.71, 1.70, 1.72, 1.73,
    1.73, 1.72, 1.73, 1.72, 1.73, 1.72, 1.71, 1.72, 1.70, 1.71,
    1.70, 1.69, 1.71, 1.72, 1.73, 1.72, 1.73, 1.72, 1.69, 1.70,
    1.64, 1.70, 1.66, 1.72, 1.74, 1.76, 1.79, 1.80, 1.68, 1.56,
    1.70, 1.72, 1.68, 1.73, 1.70, 1.74, 1.76, 1.71, 1.60, 1.55,
    1.68, 1.71, 1.69, 1.72, 1.68, 1.71, 1.69, 1.72, 1.68, 1.71,
    1.67, 1.72, 1.70, 1.73, 1.76, 1.78, 1.66, 1.56, 1.62, 1.66,
    1.64, 1.68, 1.66, 1.67, 1.69, 1.65, 1.67, 1.69, 1.67, 1.70,
    1.68, 1.70, 1.69, 1.71, 1.70, 1.72, 1.71, 1.70, 1.72, 1.71,
    1.72, 1.70, 1.72, 1.71, 1.73, 1.72, 1.73, 1.72, 1.73, 1.74,
    1.72, 1.73, 1.74, 1.73, 1.72, 1.73, 1.74, 1.73, 1.74, 1.73,
    1.73, 1.74, 1.69, 1.70, 1.69, 1.70, 1.70, 1.71, 1.70, 1.71,
    1.71, 1.70, 1.71, 1.71, 1.72, 1.72, 1.71, 1.71, 1.70, 1.70,
]

series_labels = ["2\u22127 keV", "1\u22122 keV", "0.5\u22121 keV"]
series_colors = ["#0000ff", "#ff0000", "#ff00ff"]
title_text = "ECF for groups and clusters"
x_label = "z"
y_label = "ECF"
x_major = [0, 1, 2, 3]
x_minor = [0.2, 0.4, 0.6, 0.8, 1.2, 1.4, 1.6, 1.8, 2.2, 2.4, 2.6, 2.8, 3.0]
y_major = [1e-13, 1e-12, 1e-11]
y_major_labels = ["10\u207b\u00b9\u00b3", "10\u207b\u00b9\u00b2", "10\u207b\u00b9\u00b9"]
y_minor = [2e-13, 3e-13, 4e-13, 5e-13, 6e-13, 7e-13, 8e-13, 9e-13,
           2e-12, 3e-12, 4e-12, 5e-12, 6e-12, 7e-12, 8e-12, 9e-12]

assert len(blue_z) == len(blue_ecf)
assert len(red_z) == len(red_ecf)
assert len(magenta_z) == len(magenta_ecf)

UNIT = 1e-13
X_END = 3.17
AX = "#333333"
SERIF = "DejaVu Serif"

p = figure(width=1157, height=1120, y_axis_type="log",
           x_range=Range1d(0, X_END), y_range=Range1d(1e-13, 1e-11),
           output_backend="svg", toolbar_location=None,
           min_border_left=222, min_border_right=0,
           min_border_top=60, min_border_bottom=117)
p.outline_line_color = None
p.grid.visible = False
p.background_fill_color = "white"
p.border_fill_color = "white"

# title
p.title.text = title_text
p.title.text_font = SERIF
p.title.text_font_size = "49px"
p.title.text_font_style = "normal"
p.title.text_color = "#111111"
p.title.align = "left"
p.title.offset = 148
p.title.standoff = 2

xt = FixedTicker(ticks=x_major, minor_ticks=x_minor)
yt = FixedTicker(ticks=y_major, minor_ticks=y_minor)


def style_axis(ax, major_len, minor_len):
    ax.axis_line_color = AX
    ax.axis_line_width = 2
    ax.major_tick_line_color = AX
    ax.major_tick_line_width = 2
    ax.minor_tick_line_color = AX
    ax.minor_tick_line_width = 2
    ax.major_tick_in = major_len
    ax.major_tick_out = 0
    ax.minor_tick_in = minor_len
    ax.minor_tick_out = 0


def hide_labels(ax):
    ax.major_label_text_font_size = "1px"
    ax.major_label_standoff = 0
    ax.major_label_policy = CustomLabelingPolicy(
        code="for (const i of [...indices]) indices.unset(i); return indices")


xa = p.xaxis[0]
xa.ticker = xt
style_axis(xa, 30, 15)
xa.major_label_text_font = SERIF
xa.major_label_text_font_size = "44px"
xa.major_label_text_color = "#111111"
xa.major_label_standoff = 22
xa.axis_label = x_label
xa.axis_label_text_font = SERIF
xa.axis_label_text_font_size = "46px"
xa.axis_label_text_font_style = "normal"
xa.axis_label_text_color = "#111111"
xa.axis_label_standoff = 2

ya = p.yaxis[0]
ya.ticker = yt
style_axis(ya, 32, 15)
ya.major_label_overrides = {v: s for v, s in zip(y_major, y_major_labels)}
ya.major_label_text_font = SERIF
ya.major_label_text_font_size = "42px"
ya.major_label_text_color = "#111111"
ya.major_label_standoff = 28
ya.axis_label = y_label
ya.axis_label_text_font = SERIF
ya.axis_label_text_font_size = "56px"
ya.axis_label_text_font_style = "normal"
ya.axis_label_text_color = "#111111"
ya.axis_label_standoff = 14

top = LinearAxis(ticker=xt)
style_axis(top, 30, 15)
hide_labels(top)
p.add_layout(top, "above")

# the right frame edge lies just past the picture edge in the original,
# so only the inner part of its ticks shows
right = LogAxis(ticker=yt)
style_axis(right, 22, 7)
right.axis_line_color = None
hide_labels(right)
p.add_layout(right, "right")

# data
for zs, vs, col in [(blue_z, blue_ecf, series_colors[0]),
                    (red_z, red_ecf, series_colors[1]),
                    (magenta_z, magenta_ecf, series_colors[2])]:
    src = ColumnDataSource(dict(z=zs, ecf=[v * UNIT for v in vs]))
    p.scatter(x="z", y="ecf", source=src, marker="circle", size=4,
              fill_color=col, line_color=None)

# legend texts
for lab, col, ys in zip(series_labels, series_colors, [882, 833, 787]):
    p.add_layout(Label(x=2.0, y=ys, x_units="data", y_units="screen",
                       text=lab, text_color=col, text_font=SERIF,
                       text_font_size="37px", text_baseline="alphabetic"))

open("out.html", "w").write(file_html(p, INLINE))
